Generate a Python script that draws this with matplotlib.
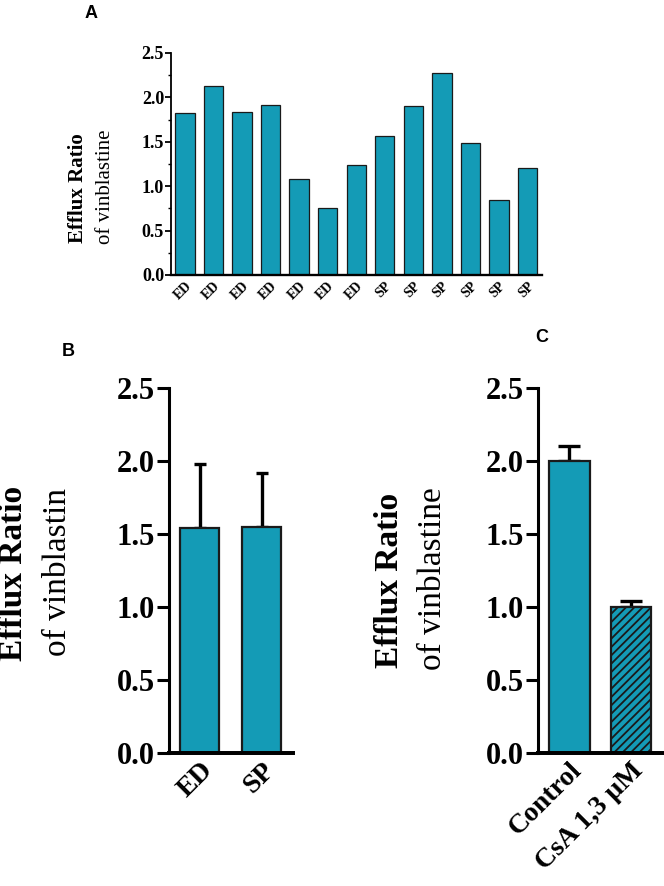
import numpy as np
import matplotlib
matplotlib.use("Agg")
import matplotlib.pyplot as plt

# Data
samples_a = ["ED"] * 7 + ["SP"] * 6
ratio_a = [1.82, 2.13, 1.83, 1.92, 1.08, 0.75, 1.24, 1.57, 1.90, 2.27, 1.49, 0.85, 1.20]

groups_b = ["ED", "SP"]
mean_b = [1.54, 1.55]
err_b = [0.44, 0.37]

groups_c = ["Control", "CsA 1,3 µM"]
mean_c = [2.00, 1.00]
err_c = [0.10, 0.04]

teal = "#149bb6"
serif = "Liberation Serif"
sans = "Liberation Sans"

plt.rcParams["font.family"] = serif
plt.rcParams["hatch.linewidth"] = 1.3

W, H = 664, 886
fig = plt.figure(figsize=(W / 100, H / 100), dpi=100)


def px_axes(left, right, top, bottom):
    # axes rect from pixel edges
    return fig.add_axes([left / W, 1 - bottom / H, (right - left) / W, (bottom - top) / H])


def style_axis(ax, lw, tick_len, tick_size):
    for side in ("top", "right"):
        ax.spines[side].set_visible(False)
    ax.spines["left"].set_linewidth(lw)
    ax.spines["bottom"].set_linewidth(lw * 1.3)
    ax.spines["bottom"].set_zorder(5)
    ax.set_ylim(0, 2.5)
    ax.set_yticks([0.0, 0.5, 1.0, 1.5, 2.0, 2.5])
    ax.set_yticklabels([f"{v:.1f}" for v in ax.get_yticks()],
                       fontsize=tick_size, fontweight="bold", family=serif)
    ax.tick_params(axis="y", length=tick_len, width=lw, pad=1)
    ax.tick_params(axis="x", length=0)


# Panel A
ax_a = px_axes(171, 542, 53, 275)
x_a = np.arange(len(ratio_a))
ax_a.bar(x_a, ratio_a, width=0.68, color=teal, edgecolor="#1a1a1a", linewidth=0.9)
ax_a.set_xlim(-0.49, len(ratio_a) - 0.49)
style_axis(ax_a, 1.3, 4, 13)
ax_a.set_yticks(np.arange(0.25, 2.5, 0.5), minor=True)
ax_a.tick_params(axis="y", which="minor", length=2.5, width=1.0)
ax_a.set_xticks(x_a)
ax_a.set_xticklabels(samples_a, rotation=45, ha="right", rotation_mode="anchor",
                     fontsize=10, fontweight="bold")
fig.text(78 / W, 1 - 188 / H, "Efflux Ratio", rotation=90, ha="center", va="center",
         fontsize=15, fontweight="bold")
fig.text(106 / W, 1 - 187 / H, "of vinblastine", rotation=90, ha="center", va="center",
         fontsize=15)
fig.text(91 / W, 1 - 14 / H, "A", ha="center", va="center", fontsize=13,
         fontweight="bold", family=sans)

# Panel B
ax_b = px_axes(169, 293, 388, 753)
x_b = np.arange(len(mean_b))
ax_b.errorbar(x_b, mean_b, yerr=[np.zeros(len(err_b)), err_b], fmt="none",
              ecolor="black", elinewidth=2.4, capsize=4.5, capthick=2.4, zorder=1)
ax_b.bar(x_b, mean_b, width=0.63, color=teal, edgecolor="#1a1a1a", linewidth=1.6, zorder=2)
ax_b.set_xlim(-0.5, 1.51)
style_axis(ax_b, 2.2, 9, 22)
ax_b.set_xticks(x_b)
ax_b.set_xticklabels(groups_b, rotation=45, ha="right", rotation_mode="anchor",
                     fontsize=20, fontweight="bold")
fig.text(14 / W, 1 - 573 / H, "Efflux Ratio", rotation=90, ha="center", va="center",
         fontsize=24, fontweight="bold")
fig.text(58 / W, 1 - 572 / H, "of vinblastin", rotation=90, ha="center", va="center",
         fontsize=24)
fig.text(68 / W, 1 - 352 / H, "B", ha="center", va="center", fontsize=13,
         fontweight="bold", family=sans)

# Panel C
ax_c = px_axes(538, 664, 388, 753)
x_c = np.arange(len(mean_c))
ax_c.errorbar(x_c, mean_c, yerr=[np.zeros(len(err_c)), err_c], fmt="none",
              ecolor="black", elinewidth=2.4, capsize=8, capthick=2.4, zorder=1)
bars_c = ax_c.bar(x_c, mean_c, width=0.66, color=teal, edgecolor="#1a1a1a",
                  linewidth=1.6, zorder=2)
bars_c[1].set_hatch("////")
ax_c.set_xlim(-0.51, 1.54)
style_axis(ax_c, 2.2, 9, 22)
ax_c.set_xticks(x_c)
ax_c.set_xticklabels(groups_c, rotation=45, ha="right", rotation_mode="anchor",
                     fontsize=20, fontweight="bold")
fig.text(389 / W, 1 - 580 / H, "Efflux Ratio", rotation=90, ha="center", va="center",
         fontsize=24, fontweight="bold")
fig.text(433 / W, 1 - 579 / H, "of vinblastine", rotation=90, ha="center", va="center",
         fontsize=24)
fig.text(542 / W, 1 - 338 / H, "C", ha="center", va="center", fontsize=13,
         fontweight="bold", family=sans)

fig.savefig("out.png", dpi=100)
